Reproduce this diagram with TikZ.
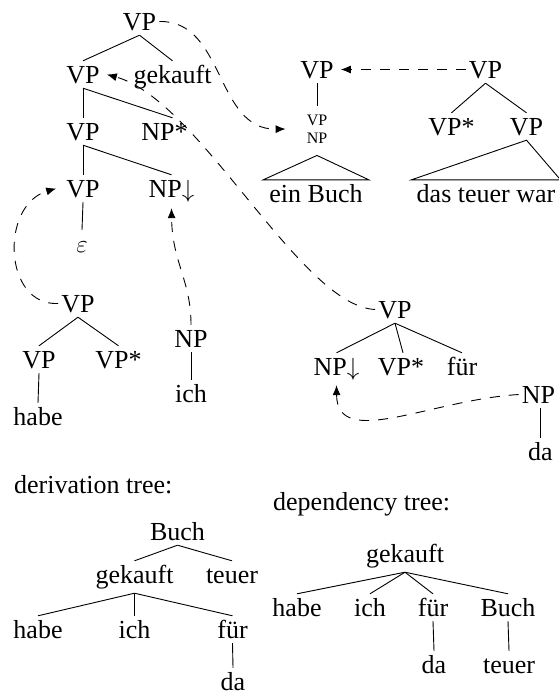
\documentclass[tikz,border=0pt]{standalone}
\usepackage{fontspec}
\setmainfont{Liberation Serif}
\usetikzlibrary{arrows.meta}
\begin{document}
\begin{tikzpicture}[x=1pt,y=-1pt,
  lbl/.style={font=\fontsize{26}{30}\selectfont, inner xsep=3pt, inner ysep=5pt,
              text height=17pt, text depth=0pt, anchor=base},
  branch/.style={line width=0.9pt},
  link/.style={line width=0.9pt, dash pattern=on 10pt off 9pt,
               -{Latex[length=10pt,width=8pt]}},
]
\useasboundingbox (0,0) rectangle (559,696);

% --- elementary tree of "gekauft"
\node[lbl] (r1) at (139.5,30) {VP};
\node[lbl] (r2) at (83,83) {VP};
\node[lbl] (gk) at (172.5,83) {gekauft};
\node[lbl] (r3) at (83,140) {VP};
\node[lbl] (nps) at (164.5,140) {NP*};
\node[lbl] (r4) at (83,197) {VP};
\node[lbl] (npa) at (171.5,197) {NP$\downarrow$};
\node[lbl] (eps) at (82,252) {$\varepsilon$};
\draw[branch] (r1.south) -- (r2.north);
\draw[branch] (r1.south) -- (gk.north);
\draw[branch] (r2.south) -- (r3.north);
\draw[branch] (r2.south) -- ([xshift=8pt]nps.north);
\draw[branch] (r3.south) -- (r4.north);
\draw[branch] (r3.south) -- (npa.north);
\draw[branch] (r4.south) -- (eps.north);

% --- auxiliary tree of "habe"
\node[lbl] (h1) at (78,312) {VP};
\node[lbl] (h2) at (39,368) {VP};
\node[lbl] (h3) at (118.5,368) {VP*};
\node[lbl] (habe) at (38,425) {habe};
\draw[branch] (h1.south) -- (h2.north);
\draw[branch] (h1.south) -- (h3.north);
\draw[branch] (h2.south) -- (habe.north);

% --- initial tree of "ich"
\node[lbl] (n1) at (191,347) {NP};
\node[lbl] (ich) at (191,402) {ich};
\draw[branch] (n1.south) -- (ich.north);

% --- tree of "ein Buch"
\node[lbl] (e1) at (317,78) {VP};
\node[font=\fontsize{16}{18}\selectfont, align=center, inner sep=0pt] (sub) at (317,129) {VP\\NP};
\node[lbl, inner xsep=6pt] (eb) at (316,202) {ein Buch};
\draw[branch] (e1.south) -- ([yshift=9pt]sub.north);
\draw[branch] ([yshift=-12pt]sub.south) -- (eb.north east) -- (eb.north west) -- cycle;

% --- tree of "das teuer war"
\node[lbl] (v1) at (485.5,78) {VP};
\node[lbl] (vs) at (451.5,135) {VP*};
\node[lbl] (vv) at (526.5,135) {VP};
\node[lbl, inner xsep=5pt] (dtw) at (486,202) {das teuer war};
\draw[branch] (v1.south) -- (vs.north);
\draw[branch] (v1.south) -- (vv.north);
\draw[branch] (vv.south) -- (dtw.north east) -- (dtw.north west) -- cycle;

% --- auxiliary tree of "für"
\node[lbl] (f1) at (395,318) {VP};
\node[lbl] (f2) at (336.5,375) {NP$\downarrow$};
\node[lbl] (f3) at (401,375) {VP*};
\node[lbl] (f4) at (462,375) {für};
\draw[branch] (f1.south) -- (f2.north);
\draw[branch] (f1.south) -- ([xshift=2pt]f3.north);
\draw[branch] (f1.south) -- (f4.north);

% --- initial tree of "da"
\node[lbl] (d1) at (538.5,403) {NP};
\node[lbl] (da1) at (540.5,460) {da};
\draw[branch] ([xshift=1.5pt]d1.south) -- ([xshift=1.5pt]d1.south |- da1.north);

% --- substitution and adjunction links
\draw[link] (r1.east) .. controls (225,20) and (215,130) .. ([xshift=-21pt]sub.west);
\draw[link] (f1.west) .. controls (300,306) and (200,100) .. ([xshift=4pt]r2.east);
\draw[link] (v1.west) -- ([xshift=4pt]e1.east);
\draw[link] (h1.west) .. controls (3,306) and (0,205) .. ([xshift=-7pt]r4.west);
\draw[link] (n1.north) .. controls (191,280) and (172,262) .. ([yshift=-6pt]npa.south);
\draw[link] (d1.west) .. controls (430,400) and (337,450) .. ([yshift=-5pt]f2.south);

% --- derivation tree
\node[lbl, anchor=base west, inner xsep=0pt] (dtitle) at (14,493) {derivation tree:};
\node[lbl] (b1) at (177.5,540) {Buch};
\node[lbl] (b2) at (134.5,583) {gekauft};
\node[lbl] (b3) at (232,583) {teuer};
\node[lbl] (b4) at (38,638) {habe};
\node[lbl] (b5) at (134.5,638) {ich};
\node[lbl] (b6) at (232.5,638) {für};
\node[lbl] (b7) at (233,690) {da};
\draw[branch] (b1.south) -- (b2.north);
\draw[branch] (b1.south) -- (b3.north);
\draw[branch] ([yshift=-5pt]b2.south) -- (b4.north);
\draw[branch] ([yshift=-5pt]b2.south) -- (b5.north);
\draw[branch] ([yshift=-5pt]b2.south) -- (b6.north);
\draw[branch] (b6.south) -- (b7.north);

% --- dependency tree
\node[lbl, anchor=base west, inner xsep=0pt] (deptitle) at (273,510) {dependency tree:};
\node[lbl] (c1) at (405,562) {gekauft};
\node[lbl] (c2) at (297,616) {habe};
\node[lbl] (c3) at (370,616) {ich};
\node[lbl] (c4) at (433,616) {für};
\node[lbl] (c5) at (508,616) {Buch};
\node[lbl] (c6) at (434,673) {da};
\node[lbl] (c7) at (509,673) {teuer};
\draw[branch] ([yshift=-5pt]c1.south) -- (c2.north);
\draw[branch] ([yshift=-5pt]c1.south) -- (c3.north);
\draw[branch] ([yshift=-5pt]c1.south) -- (c4.north);
\draw[branch] ([yshift=-5pt]c1.south) -- (c5.north);
\draw[branch] (c4.south) -- (c6.north);
\draw[branch] (c5.south) -- (c7.north);
\end{tikzpicture}
\end{document}
